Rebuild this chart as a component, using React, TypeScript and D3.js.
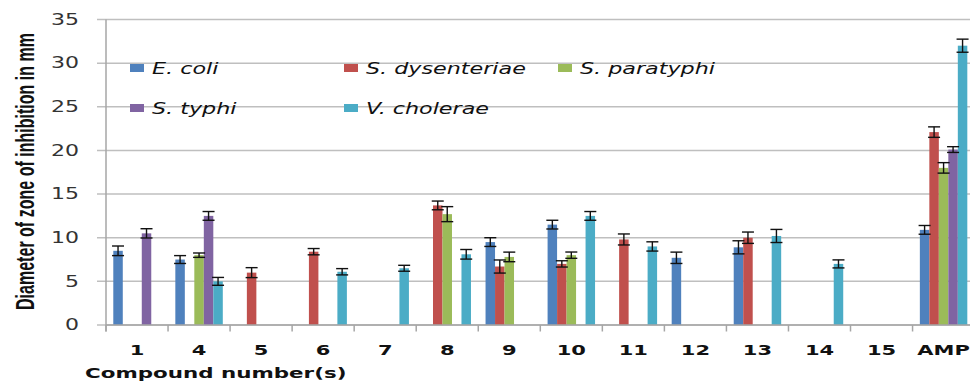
import React from "react";
import * as d3 from "d3";

// Compounds tested, plus the reference antibiotic (ampicillin)
const categories = ["1", "4", "5", "6", "7", "8", "9", "10", "11", "12", "13", "14", "15", "AMP"];

const seriesNames = ["E. coli", "S. dysenteriae", "S. paratyphi", "S. typhi", "V. cholerae"];
const seriesColors = ["#4F81BD", "#C0504D", "#9BBB59", "#8064A2", "#4BACC6"];

// Zone of inhibition (mm), null = no activity
const eColi = [8.5, 7.5, null, null, null, null, 9.5, 11.5, null, 7.7, 8.9, null, null, 10.9];
const eColiErr = [0.55, 0.45, 0, 0, 0, 0, 0.5, 0.5, 0, 0.65, 0.75, 0, 0, 0.5];

const sDysenteriae = [null, null, 6, 8.4, null, 13.7, 6.7, 7, 9.8, null, 10, null, null, 22.1];
const sDysenteriaeErr = [0, 0, 0.57, 0.36, 0, 0.5, 0.75, 0.36, 0.63, 0, 0.65, 0, 0, 0.6];

const sParatyphi = [null, 8, null, null, null, 12.7, 7.8, 8, null, null, null, null, null, 18];
const sParatyphiErr = [0, 0.25, 0, 0, 0, 0.86, 0.55, 0.36, 0, 0, 0, 0, 0, 0.6];

const sTyphi = [10.5, 12.5, null, null, null, null, null, null, null, null, null, null, null, 20.1];
const sTyphiErr = [0.53, 0.5, 0, 0, 0, 0, 0, 0, 0, 0, 0, 0, 0, 0.33];

const vCholerae = [null, 5, null, 6.1, 6.5, 8.1, null, 12.5, 9, null, 10.2, 7, null, 32];
const vCholeraeErr = [0, 0.45, 0, 0.36, 0.34, 0.55, 0, 0.5, 0.53, 0, 0.75, 0.46, 0, 0.75];

const yTicks = [0, 5, 10, 15, 20, 25, 30, 35];

const seriesValues = [eColi, sDysenteriae, sParatyphi, sTyphi, vCholerae];
const seriesErrors = [eColiErr, sDysenteriaeErr, sParatyphiErr, sTyphiErr, vCholeraeErr];

const W = 970;
const H = 382;
const plotLeft = 106;
const plotRight = 974.6;
const plotTop = 19.5;
const plotBottom = 325;

const FONT = "'DejaVu Sans', Verdana, sans-serif";

function Stretch({ x, y, sx, anchor = "start", children, ...rest }: any) {
  return (
    <text transform={`translate(${x},${y}) scale(${sx},1)`} textAnchor={anchor} {...rest}>
      {children}
    </text>
  );
}

export default function App() {
  const y = d3.scaleLinear().domain([0, 35]).range([plotBottom, plotTop]);
  const x0 = d3.scaleBand<string>().domain(categories).range([plotLeft, plotRight]).padding(0);
  const step = x0.step();
  const inset = step * 0.1175;
  const x1 = d3.scaleBand<string>().domain(seriesNames).range([inset, step - inset]).padding(0);
  const bw = x1.bandwidth();

  const legendItems = [
    { name: seriesNames[0], color: seriesColors[0], x: 130, y: 64 },
    { name: seriesNames[1], color: seriesColors[1], x: 344, y: 64 },
    { name: seriesNames[2], color: seriesColors[2], x: 558, y: 64 },
    { name: seriesNames[3], color: seriesColors[3], x: 130, y: 104 },
    { name: seriesNames[4], color: seriesColors[4], x: 344, y: 104 },
  ];

  return (
    <svg
      width={W}
      height={H}
      style={{ position: "absolute", left: 0, top: 0, background: "#fff" }}
      fontFamily={FONT}
    >
      {/* horizontal gridlines */}
      {yTicks.map((t) => (
        <line key={"g" + t} x1={97} x2={W} y1={y(t)} y2={y(t)} stroke="#BFBFBF" strokeWidth={1.5} />
      ))}

      {/* y tick labels */}
      {yTicks.map((t) => (
        <Stretch key={"yl" + t} x={79} y={y(t) + 5.3} sx={1.47} anchor="end" fontSize={15} fill="#333">
          {t}
        </Stretch>
      ))}

      {/* bars */}
      {seriesValues.map((vals, si) =>
        vals.map((v, ci) =>
          v == null ? null : (
            <rect
              key={`b${si}-${ci}`}
              x={(x0(categories[ci]) as number) + (x1(seriesNames[si]) as number)}
              y={y(v)}
              width={bw}
              height={plotBottom - y(v)}
              fill={seriesColors[si]}
            />
          )
        )
      )}

      {/* error bars */}
      {seriesValues.map((vals, si) =>
        vals.map((v, ci) => {
          if (v == null) return null;
          const e = seriesErrors[si][ci];
          const cx = (x0(categories[ci]) as number) + (x1(seriesNames[si]) as number) + bw / 2;
          const yHi = y(v + e);
          const yLo = y(v - e);
          return (
            <g key={`e${si}-${ci}`} stroke="#111" strokeWidth={1.4}>
              <line x1={cx} x2={cx} y1={yHi} y2={yLo} />
              <line x1={cx - 6} x2={cx + 6} y1={yHi} y2={yHi} />
              <line x1={cx - 6} x2={cx + 6} y1={yLo} y2={yLo} />
            </g>
          );
        })
      )}

      {/* axes */}
      <line x1={plotLeft} x2={plotLeft} y1={plotTop} y2={plotBottom + 6.5} stroke="#A6A6A6" strokeWidth={1.5} />
      <line x1={plotLeft} x2={W} y1={plotBottom} y2={plotBottom} stroke="#A6A6A6" strokeWidth={1.5} />
      {categories.map((c) => (
        <line
          key={"xt" + c}
          x1={x0(c) as number}
          x2={x0(c) as number}
          y1={plotBottom}
          y2={plotBottom + 6.5}
          stroke="#A6A6A6"
          strokeWidth={1.5}
        />
      ))}

      {/* x tick labels */}
      {categories.map((c) => (
        <Stretch
          key={"xl" + c}
          x={(x0(c) as number) + step / 2}
          y={355}
          sx={1.5}
          anchor="middle"
          fontSize={14}
          fontWeight="bold"
          fill="#111"
        >
          {c}
        </Stretch>
      ))}

      {/* x axis title */}
      <Stretch x={85} y={377.5} sx={1.53} fontSize={14} fontWeight="bold" fill="#111">
        Compound number(s)
      </Stretch>

      {/* y axis title */}
      <text
        transform={`translate(34,171.5) scale(1.47,1) rotate(-90)`}
        textAnchor="middle"
        fontFamily="'Liberation Sans Narrow', 'Liberation Sans', Arial, sans-serif"
        fontWeight="bold"
        fontSize={18}
        textLength={277}
        lengthAdjust="spacingAndGlyphs"
        fill="#111"
      >
        Diameter of zone of inhibition in mm
      </text>

      {/* legend */}
      {legendItems.map((it) => (
        <g key={"lg" + it.name}>
          <rect x={it.x} y={it.y} width={14} height={8} fill={it.color} />
          <Stretch x={it.x + 22} y={it.y + 10} sx={1.39} fontSize={16} fontStyle="italic" fill="#111">
            {it.name}
          </Stretch>
        </g>
      ))}
    </svg>
  );
}
